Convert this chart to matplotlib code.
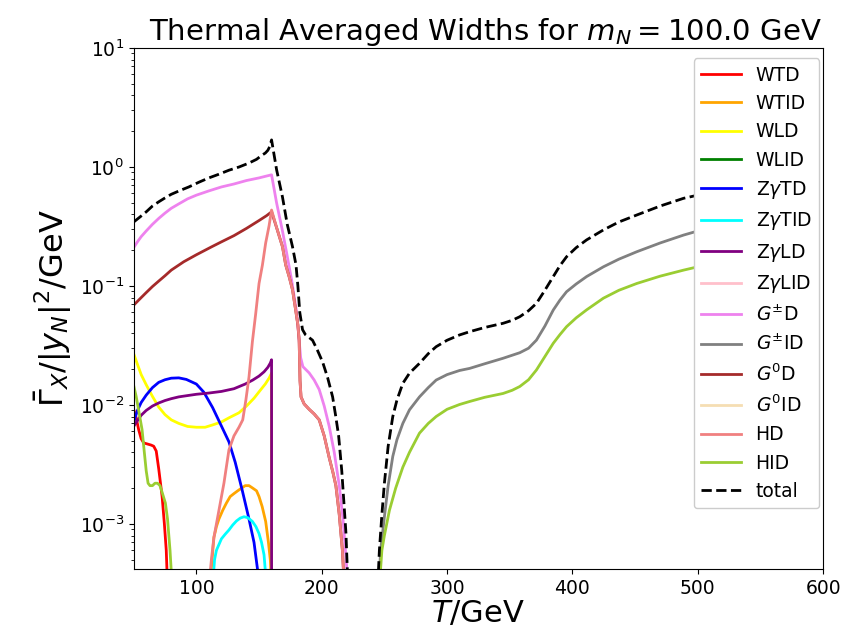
import numpy as np
import matplotlib
matplotlib.use("Agg")
import matplotlib.pyplot as plt

# ---- data (T in GeV, width in GeV) ----
WTD_T = [50, 52, 54, 56, 58, 61, 64, 66, 68, 70, 72.7, 74.5, 76, 77]
WTD_V = [0.0092, 0.0078, 0.0062, 0.0052, 0.0048, 0.0047, 0.0046, 0.0045, 0.0041, 0.0029, 0.0017, 0.0010, 0.0006, 0.0003]

WTID_T = [111, 112.5, 114, 116, 118, 121, 124, 127, 130, 133, 136, 139, 142, 145, 148, 150, 152.5, 155.3, 157.5, 159, 160]
WTID_V = [0.0003, 0.0005, 0.00077, 0.00095, 0.0011, 0.0013, 0.0015, 0.0017, 0.0018, 0.0019, 0.0020, 0.0021, 0.0021, 0.0020, 0.0019, 0.0017, 0.0014, 0.00105, 0.0007, 0.0005, 0.0003]

WLD_T = [50, 53, 56, 60, 65, 70, 75, 80, 86, 93, 100, 107, 113, 120, 126, 134, 140, 146, 151, 155, 158, 160, 160.01]
WLD_V = [0.027, 0.022, 0.018, 0.0148, 0.0118, 0.0096, 0.0083, 0.0075, 0.0070, 0.0066, 0.0065, 0.0065, 0.0068, 0.0072, 0.0078, 0.0086, 0.0098, 0.0114, 0.0133, 0.0150, 0.0168, 0.0185, 0.0001]

WLID_T = []
WLID_V = []

ZgTD_T = [50, 53, 56, 60, 65, 70, 75, 80, 86, 92, 100, 106, 113, 119, 126, 131, 136.7, 142, 146, 149]
ZgTD_V = [0.0072, 0.0090, 0.0105, 0.0121, 0.0140, 0.0155, 0.0163, 0.0168, 0.0169, 0.0164, 0.0150, 0.0128, 0.0095, 0.0070, 0.0049, 0.0033, 0.0019, 0.0011, 0.0007, 0.0004]

ZgTID_T = [113, 114.5, 116, 120, 123, 126, 129, 132, 135, 138, 141, 144.7, 147.5, 150, 152, 154, 156]
ZgTID_V = [0.0003, 0.0005, 0.0006, 0.00075, 0.00082, 0.00089, 0.00098, 0.00106, 0.00112, 0.00115, 0.00113, 0.00105, 0.00095, 0.00083, 0.0007, 0.00055, 0.0003]

ZgLD_T = [50, 53, 56, 60, 65, 70, 75, 80, 86, 93, 100, 110, 120, 130, 139, 145, 150, 154, 157, 159, 160, 160.01]
ZgLD_V = [0.0066, 0.0074, 0.0082, 0.0090, 0.0098, 0.0104, 0.0109, 0.0113, 0.0117, 0.0120, 0.0123, 0.0126, 0.0130, 0.0137, 0.0150, 0.0162, 0.0175, 0.0190, 0.0207, 0.0225, 0.024, 0.0001]

ZgLID_T = []
ZgLID_V = []

GpmD_T = [50, 53, 56, 60, 65, 70, 75, 80, 86, 93, 100, 110, 120, 130, 140, 150, 156, 160,
          164, 168.7, 172, 176, 180, 182, 183.2, 185, 190, 194, 198, 202, 206, 210, 214, 217, 219.5, 221]
GpmD_V = [0.21, 0.235, 0.26, 0.29, 0.33, 0.37, 0.41, 0.45, 0.49, 0.54, 0.58, 0.63, 0.68, 0.72, 0.77, 0.81, 0.84, 0.86,
          0.50, 0.29, 0.19, 0.112, 0.060, 0.035, 0.025, 0.021, 0.0186, 0.0162, 0.0135, 0.0098, 0.0066, 0.0040, 0.0021, 0.0011, 0.0005, 0.0003]

GpmID_T = [245.5, 247, 250, 253, 256.7, 260, 264.7, 270, 278, 285, 291.3, 300, 310, 318, 330, 344.7, 352, 358, 365, 371.3, 378, 384.7, 390, 395.3, 403, 411.3, 424.7, 437, 451.3, 470, 488.7, 500]
GpmID_V = [0.0003, 0.0006, 0.00115, 0.0021, 0.0037, 0.0051, 0.0070, 0.0091, 0.0117, 0.0140, 0.0162, 0.0180, 0.0195, 0.0203, 0.0222, 0.0247, 0.0262, 0.0275, 0.0300, 0.0351, 0.046, 0.0628, 0.076, 0.0895, 0.104, 0.120, 0.145, 0.168, 0.194, 0.230, 0.268, 0.29]

G0D_T = [50, 55, 60, 65, 70, 75, 80, 90, 100, 112, 120, 130, 140, 150, 156, 160,
         164, 168.7, 171.3, 174, 176.7, 179, 181, 182, 182.7, 183.5, 186, 190, 194, 198, 202, 206, 209, 211.3, 214, 216.5, 218]
G0D_V = [0.069, 0.078, 0.088, 0.099, 0.110, 0.122, 0.136, 0.160, 0.183, 0.213, 0.235, 0.265, 0.305, 0.355, 0.39, 0.42,
         0.31, 0.214, 0.15, 0.12, 0.093, 0.065, 0.047, 0.035, 0.016, 0.0117, 0.0102, 0.0092, 0.0084, 0.0075, 0.0055, 0.0036, 0.0027, 0.0021, 0.0012, 0.0006, 0.0003]

G0ID_T = []
G0ID_V = []

HD_T = [110, 112, 114, 116, 118, 122, 126, 130, 134, 137, 139.5, 142, 144.7, 147.3, 150, 152.7, 155.3, 158, 160,
        164, 168.7, 171.3, 174, 176.7, 179, 181, 182, 182.7, 183.5, 186, 190, 194, 198, 202, 206, 209, 211.3, 214, 216.5, 218]
HD_V = [0.0003, 0.0005, 0.00077, 0.001, 0.0013, 0.0022, 0.0042, 0.0055, 0.0065, 0.0075, 0.011, 0.0172, 0.034, 0.058, 0.105, 0.15, 0.23, 0.32, 0.435,
        0.31, 0.214, 0.15, 0.12, 0.093, 0.065, 0.047, 0.035, 0.016, 0.0117, 0.0102, 0.0092, 0.0084, 0.0075, 0.0055, 0.0036, 0.0027, 0.0021, 0.0012, 0.0006, 0.0003]

HID_T_LOW = [50, 52, 54, 56.7, 58.5, 60, 61.5, 63, 65, 67, 69, 71, 73, 75.3, 77, 79, 80.7]
HID_V_LOW = [0.0146, 0.0118, 0.0090, 0.0062, 0.0040, 0.0028, 0.0022, 0.0021, 0.0021, 0.0022, 0.0022, 0.0021, 0.0018, 0.0015, 0.0011, 0.0006, 0.0003]
HID_T_HIGH = [246, 248, 250, 254, 259, 264.7, 270, 278, 285, 291.3, 300, 310, 318, 330, 344.7, 352, 358, 365, 371.3, 378, 384.7, 390, 395.3, 403, 411.3, 424.7, 437, 451.3, 470, 488.7, 500]
HID_V_HIGH = [0.0003, 0.0006, 0.0008, 0.0013, 0.0020, 0.0030, 0.0040, 0.0058, 0.0070, 0.0080, 0.0092, 0.0101, 0.0107, 0.0116, 0.0125, 0.0133, 0.0143, 0.0163, 0.0197, 0.0255, 0.0330, 0.039, 0.0455, 0.054, 0.063, 0.079, 0.092, 0.105, 0.121, 0.136, 0.145]

TOT_T_LOW = [50, 55, 60, 65, 70, 75, 80, 87, 94, 102, 110, 118, 126, 134, 142, 148, 152, 155, 157, 158.5, 160,
             164, 168.7, 172.5, 176.7, 179.5, 181, 182.5, 184.7, 187, 192.7, 196.5, 200.7, 204.7, 208.7, 211.3, 213.5, 216, 219.3, 220.5]
TOT_V_LOW = [0.345, 0.38, 0.42, 0.47, 0.51, 0.55, 0.59, 0.635, 0.68, 0.745, 0.81, 0.87, 0.94, 1.0, 1.08, 1.16, 1.25, 1.31, 1.38, 1.48, 1.69,
             0.95, 0.56, 0.33, 0.214, 0.15, 0.10, 0.06, 0.043, 0.039, 0.035, 0.029, 0.023, 0.017, 0.0117, 0.0079, 0.0055, 0.0028, 0.00085, 0.0004]
TOT_T_HIGH = [244.7, 246, 248, 250, 253, 256.7, 260, 264.7, 270, 278, 285, 291.3, 300, 310, 318, 330, 344.7, 352, 358, 365, 371.3, 378, 384.7, 390, 395.3, 403, 411.3, 424.7, 437, 451.3, 470, 488.7, 500]
TOT_V_HIGH = [0.0003, 0.0006, 0.0012, 0.0022, 0.0045, 0.0080, 0.0110, 0.0152, 0.0185, 0.0224, 0.0270, 0.0309, 0.0350, 0.0388, 0.0413, 0.0448, 0.0486, 0.0515, 0.0552, 0.062, 0.0715, 0.092, 0.120, 0.148, 0.176, 0.210, 0.244, 0.296, 0.345, 0.395, 0.47, 0.546, 0.58]

NAN = [np.nan]
SERIES = [
    ("WTD", WTD_T, WTD_V, "red"),
    ("WTID", WTID_T, WTID_V, "orange"),
    ("WLD", WLD_T, WLD_V, "yellow"),
    ("WLID", WLID_T, WLID_V, "green"),
    (r"Z$\gamma$TD", ZgTD_T, ZgTD_V, "blue"),
    (r"Z$\gamma$TID", ZgTID_T, ZgTID_V, "cyan"),
    (r"Z$\gamma$LD", ZgLD_T, ZgLD_V, "purple"),
    (r"Z$\gamma$LID", ZgLID_T, ZgLID_V, "pink"),
    (r"$G^{\pm}$D", GpmD_T, GpmD_V, "violet"),
    (r"$G^{\pm}$ID", GpmID_T, GpmID_V, "grey"),
    (r"$G^0$D", G0D_T, G0D_V, "brown"),
    (r"$G^0$ID", G0ID_T, G0ID_V, "wheat"),
    ("HD", HD_T, HD_V, "lightcoral"),
    ("HID", HID_T_LOW + NAN + HID_T_HIGH, HID_V_LOW + NAN + HID_V_HIGH, "yellowgreen"),
]

fig = plt.figure(figsize=(8.46, 6.32), dpi=100)
ax = fig.add_subplot(111)
fig.subplots_adjust(left=0.158, right=0.973, bottom=0.1, top=0.924)

for lab, t, v, c in SERIES:
    ax.plot(t, v, color=c, ls="-", lw=2, label=lab)

ax.plot(TOT_T_LOW + NAN + TOT_T_HIGH, TOT_V_LOW + NAN + TOT_V_HIGH, "k--", lw=2, label="total")

ax.set_yscale("log")
ax.set_xlim(50, 600)
ax.set_ylim(4.2e-4, 10)
ax.set_xticks([100, 200, 300, 400, 500, 600])
ax.tick_params(labelsize=13.5)
ax.set_title(r"Thermal Averaged Widths for $m_N = 100.0$ GeV", fontsize=21, x=0.51)
ax.set_xlabel(r"$T$/GeV", fontsize=22, labelpad=1)
ax.set_ylabel(r"$\bar{\Gamma}_X/|y_N|^2$/GeV", fontsize=23)
ax.legend(loc="upper right", fontsize=13.5, framealpha=1.0, borderaxespad=0.2,
          bbox_to_anchor=(1.0, 0.988), handlelength=2.1)

fig.savefig("out.png", dpi=100)
